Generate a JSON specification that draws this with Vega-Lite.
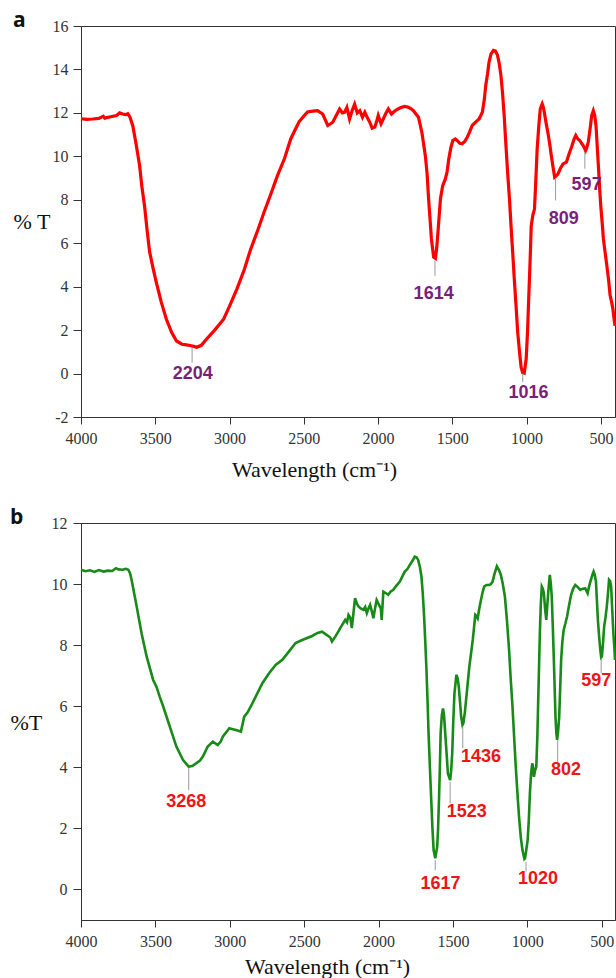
{
  "$schema": "https://vega.github.io/schema/vega-lite/v6.json",
  "background": "white",
  "padding": {"left": 9, "top": 9, "right": 0, "bottom": 0},
  "spacing": 25,
  "config": {
    "view": {"stroke": "#333", "strokeWidth": 1},
    "axis": {
      "grid": false,
      "labelFont": "Liberation Serif",
      "labelFontSize": 16,
      "labelColor": "#333",
      "labelFlush": false,
      "tickColor": "#333",
      "domainColor": "#333",
      "tickSize": 7,
      "titleFont": "Liberation Serif",
      "titleFontSize": 22,
      "titleFontWeight": "normal",
      "titleColor": "#111",
      "labelExpr": "toString(datum.value)"
    },
    "title": {"font": "Open Sans", "fontSize": 21, "fontWeight": "bold", "color": "#111", "anchor": "start"}
  },
  "datasets": {
    "specA": [
      {"w":4000,"t":11.73},{"w":3960,"t":11.70},{"w":3920,"t":11.72},{"w":3880,"t":11.75},{"w":3850,"t":11.85},{"w":3840,"t":11.76},{"w":3800,"t":11.82},{"w":3760,"t":11.88},{"w":3740,"t":12.0},{"w":3720,"t":11.95},{"w":3700,"t":11.92},{"w":3685,"t":11.96},{"w":3670,"t":11.8},{"w":3651,"t":11.4},{"w":3630,"t":10.6},{"w":3606,"t":9.6},{"w":3590,"t":8.6},{"w":3572,"t":7.7},{"w":3555,"t":6.6},{"w":3538,"t":5.6},{"w":3515,"t":4.85},{"w":3493,"t":4.2},{"w":3460,"t":3.3},{"w":3425,"t":2.5},{"w":3390,"t":1.9},{"w":3357,"t":1.5},{"w":3320,"t":1.35},{"w":3290,"t":1.32},{"w":3267,"t":1.29},{"w":3240,"t":1.25},{"w":3221,"t":1.21},{"w":3190,"t":1.3},{"w":3153,"t":1.6},{"w":3100,"t":2.0},{"w":3040,"t":2.5},{"w":3000,"t":3.1},{"w":2950,"t":3.9},{"w":2900,"t":4.8},{"w":2859,"t":5.7},{"w":2810,"t":6.6},{"w":2769,"t":7.4},{"w":2720,"t":8.3},{"w":2678,"t":9.1},{"w":2630,"t":9.9},{"w":2588,"t":10.8},{"w":2560,"t":11.2},{"w":2531,"t":11.6},{"w":2500,"t":11.85},{"w":2475,"t":12.04},{"w":2440,"t":12.08},{"w":2407,"t":12.1},{"w":2373,"t":11.95},{"w":2350,"t":11.6},{"w":2339,"t":11.42},{"w":2320,"t":11.5},{"w":2305,"t":11.57},{"w":2280,"t":11.9},{"w":2259,"t":12.18},{"w":2240,"t":12.0},{"w":2225,"t":12.03},{"w":2210,"t":12.25},{"w":2192,"t":11.72},{"w":2175,"t":12.1},{"w":2158,"t":12.4},{"w":2140,"t":12.0},{"w":2123,"t":12.1},{"w":2105,"t":11.8},{"w":2089,"t":12.03},{"w":2070,"t":11.75},{"w":2056,"t":11.57},{"w":2040,"t":11.3},{"w":2022,"t":11.35},{"w":2010,"t":11.6},{"w":1999,"t":11.88},{"w":1980,"t":11.5},{"w":1965,"t":11.72},{"w":1950,"t":11.95},{"w":1931,"t":12.18},{"w":1910,"t":11.95},{"w":1886,"t":12.1},{"w":1860,"t":12.2},{"w":1841,"t":12.26},{"w":1820,"t":12.3},{"w":1796,"t":12.26},{"w":1780,"t":12.2},{"w":1762,"t":12.1},{"w":1745,"t":11.95},{"w":1728,"t":11.8},{"w":1705,"t":11.1},{"w":1682,"t":10.04},{"w":1670,"t":9.2},{"w":1660,"t":8.05},{"w":1650,"t":7.1},{"w":1641,"t":6.2},{"w":1626,"t":5.36},{"w":1614,"t":5.3},{"w":1605,"t":5.8},{"w":1597,"t":6.5},{"w":1580,"t":8.05},{"w":1565,"t":8.65},{"w":1547,"t":8.96},{"w":1535,"t":9.3},{"w":1524,"t":9.88},{"w":1510,"t":10.4},{"w":1497,"t":10.73},{"w":1480,"t":10.8},{"w":1468,"t":10.73},{"w":1450,"t":10.6},{"w":1434,"t":10.58},{"w":1415,"t":10.7},{"w":1400,"t":10.88},{"w":1385,"t":11.1},{"w":1366,"t":11.42},{"w":1340,"t":11.6},{"w":1320,"t":11.72},{"w":1298,"t":12.03},{"w":1285,"t":12.6},{"w":1275,"t":13.27},{"w":1263,"t":13.8},{"w":1253,"t":14.34},{"w":1240,"t":14.7},{"w":1223,"t":14.88},{"w":1210,"t":14.85},{"w":1196,"t":14.65},{"w":1185,"t":14.3},{"w":1173,"t":13.73},{"w":1162,"t":12.9},{"w":1151,"t":11.88},{"w":1140,"t":10.6},{"w":1128,"t":9.27},{"w":1115,"t":8.0},{"w":1105,"t":6.8},{"w":1094,"t":5.6},{"w":1083,"t":4.35},{"w":1070,"t":3.0},{"w":1060,"t":1.9},{"w":1048,"t":1.0},{"w":1037,"t":0.29},{"w":1027,"t":0.05},{"w":1016,"t":0.02},{"w":1003,"t":0.67},{"w":994,"t":1.9},{"w":986,"t":3.43},{"w":976,"t":5.3},{"w":969,"t":6.8},{"w":958,"t":7.3},{"w":947,"t":7.57},{"w":938,"t":8.9},{"w":929,"t":10.34},{"w":918,"t":11.4},{"w":908,"t":12.18},{"w":895,"t":12.41},{"w":887,"t":12.25},{"w":879,"t":11.95},{"w":868,"t":11.5},{"w":857,"t":11.1},{"w":845,"t":10.6},{"w":834,"t":10.04},{"w":822,"t":9.5},{"w":811,"t":9.04},{"w":800,"t":9.1},{"w":789,"t":9.19},{"w":772,"t":9.45},{"w":755,"t":9.65},{"w":732,"t":9.73},{"w":715,"t":10.1},{"w":698,"t":10.42},{"w":680,"t":10.8},{"w":669,"t":10.96},{"w":655,"t":10.8},{"w":642,"t":10.73},{"w":630,"t":10.6},{"w":619,"t":10.5},{"w":603,"t":10.27},{"w":595,"t":10.4},{"w":585,"t":10.65},{"w":572,"t":11.3},{"w":562,"t":11.88},{"w":551,"t":12.1},{"w":542,"t":11.9},{"w":533,"t":11.42},{"w":525,"t":10.5},{"w":517,"t":9.57},{"w":509,"t":8.6},{"w":501,"t":7.73},{"w":492,"t":7.0},{"w":483,"t":6.2},{"w":470,"t":5.5},{"w":460,"t":4.97},{"w":448,"t":4.3},{"w":438,"t":3.6},{"w":428,"t":3.3},{"w":419,"t":2.97},{"w":411,"t":2.5},{"w":405,"t":2.2}
    ],
    "specB": [
      {"w":4000,"t":10.47},{"w":3970,"t":10.42},{"w":3940,"t":10.45},{"w":3910,"t":10.4},{"w":3880,"t":10.46},{"w":3848,"t":10.41},{"w":3820,"t":10.44},{"w":3790,"t":10.43},{"w":3765,"t":10.52},{"w":3748,"t":10.48},{"w":3720,"t":10.47},{"w":3700,"t":10.5},{"w":3682,"t":10.47},{"w":3670,"t":10.35},{"w":3660,"t":10.14},{"w":3626,"t":9.27},{"w":3593,"t":8.39},{"w":3559,"t":7.63},{"w":3515,"t":6.86},{"w":3493,"t":6.64},{"w":3470,"t":6.3},{"w":3448,"t":6.0},{"w":3403,"t":5.33},{"w":3359,"t":4.68},{"w":3314,"t":4.24},{"w":3276,"t":4.02},{"w":3250,"t":4.05},{"w":3226,"t":4.13},{"w":3200,"t":4.22},{"w":3181,"t":4.35},{"w":3148,"t":4.68},{"w":3114,"t":4.84},{"w":3081,"t":4.73},{"w":3060,"t":4.85},{"w":3047,"t":5.0},{"w":3003,"t":5.28},{"w":2980,"t":5.25},{"w":2959,"t":5.22},{"w":2925,"t":5.17},{"w":2903,"t":5.66},{"w":2880,"t":5.8},{"w":2858,"t":6.0},{"w":2825,"t":6.32},{"w":2780,"t":6.76},{"w":2736,"t":7.08},{"w":2692,"t":7.35},{"w":2647,"t":7.52},{"w":2603,"t":7.79},{"w":2558,"t":8.07},{"w":2513,"t":8.17},{"w":2447,"t":8.3},{"w":2410,"t":8.4},{"w":2380,"t":8.44},{"w":2347,"t":8.33},{"w":2325,"t":8.25},{"w":2313,"t":8.12},{"w":2291,"t":8.28},{"w":2270,"t":8.45},{"w":2258,"t":8.56},{"w":2240,"t":8.7},{"w":2224,"t":8.83},{"w":2212,"t":8.75},{"w":2202,"t":8.99},{"w":2190,"t":8.9},{"w":2180,"t":8.56},{"w":2170,"t":9.0},{"w":2158,"t":9.54},{"w":2145,"t":9.35},{"w":2135,"t":9.27},{"w":2120,"t":9.2},{"w":2102,"t":9.16},{"w":2090,"t":9.25},{"w":2079,"t":9.05},{"w":2068,"t":9.2},{"w":2057,"t":9.32},{"w":2045,"t":9.1},{"w":2035,"t":8.88},{"w":2024,"t":9.2},{"w":2013,"t":9.48},{"w":1995,"t":9.3},{"w":1985,"t":9.2},{"w":1979,"t":8.83},{"w":1968,"t":9.75},{"w":1950,"t":9.7},{"w":1935,"t":9.65},{"w":1920,"t":9.75},{"w":1901,"t":9.81},{"w":1880,"t":9.95},{"w":1857,"t":10.08},{"w":1840,"t":10.25},{"w":1824,"t":10.41},{"w":1805,"t":10.5},{"w":1790,"t":10.63},{"w":1770,"t":10.78},{"w":1757,"t":10.9},{"w":1745,"t":10.88},{"w":1734,"t":10.79},{"w":1722,"t":10.55},{"w":1712,"t":10.25},{"w":1703,"t":9.7},{"w":1694,"t":8.94},{"w":1686,"t":8.1},{"w":1679,"t":7.3},{"w":1671,"t":6.2},{"w":1664,"t":5.11},{"w":1655,"t":4.0},{"w":1646,"t":2.93},{"w":1638,"t":2.0},{"w":1630,"t":1.29},{"w":1619,"t":1.02},{"w":1606,"t":1.4},{"w":1600,"t":2.0},{"w":1594,"t":2.93},{"w":1588,"t":4.0},{"w":1583,"t":5.11},{"w":1575,"t":5.7},{"w":1567,"t":5.93},{"w":1560,"t":5.7},{"w":1552,"t":5.11},{"w":1542,"t":4.4},{"w":1534,"t":3.8},{"w":1519,"t":3.58},{"w":1512,"t":3.9},{"w":1505,"t":4.46},{"w":1498,"t":5.5},{"w":1490,"t":6.42},{"w":1477,"t":7.03},{"w":1468,"t":6.9},{"w":1461,"t":6.64},{"w":1452,"t":6.1},{"w":1445,"t":5.66},{"w":1436,"t":5.39},{"w":1430,"t":5.45},{"w":1420,"t":5.8},{"w":1412,"t":6.2},{"w":1400,"t":6.8},{"w":1390,"t":7.3},{"w":1378,"t":7.75},{"w":1367,"t":8.17},{"w":1358,"t":8.6},{"w":1350,"t":8.99},{"w":1342,"t":8.95},{"w":1334,"t":8.88},{"w":1323,"t":9.2},{"w":1312,"t":9.48},{"w":1300,"t":9.75},{"w":1290,"t":9.92},{"w":1275,"t":9.97},{"w":1256,"t":9.97},{"w":1245,"t":10.0},{"w":1234,"t":10.08},{"w":1220,"t":10.35},{"w":1205,"t":10.58},{"w":1190,"t":10.45},{"w":1178,"t":10.3},{"w":1165,"t":10.0},{"w":1151,"t":9.59},{"w":1137,"t":8.8},{"w":1123,"t":7.85},{"w":1112,"t":6.9},{"w":1100,"t":6.0},{"w":1089,"t":5.0},{"w":1078,"t":4.02},{"w":1066,"t":3.1},{"w":1056,"t":2.38},{"w":1044,"t":1.7},{"w":1033,"t":1.29},{"w":1020,"t":1.0},{"w":1016,"t":1.02},{"w":1007,"t":1.3},{"w":998,"t":1.62},{"w":990,"t":2.3},{"w":983,"t":3.15},{"w":975,"t":3.8},{"w":967,"t":4.13},{"w":962,"t":4.0},{"w":956,"t":3.69},{"w":948,"t":3.9},{"w":940,"t":4.02},{"w":933,"t":5.0},{"w":927,"t":6.2},{"w":921,"t":7.4},{"w":916,"t":8.39},{"w":910,"t":9.3},{"w":903,"t":9.92},{"w":896,"t":9.85},{"w":889,"t":9.7},{"w":881,"t":9.2},{"w":873,"t":8.83},{"w":866,"t":9.3},{"w":860,"t":9.7},{"w":855,"t":10.0},{"w":849,"t":10.3},{"w":842,"t":10.0},{"w":836,"t":9.59},{"w":829,"t":8.6},{"w":822,"t":7.52},{"w":816,"t":6.5},{"w":811,"t":5.66},{"w":805,"t":5.1},{"w":800,"t":4.9},{"w":793,"t":5.2},{"w":786,"t":5.66},{"w":780,"t":6.5},{"w":773,"t":7.52},{"w":765,"t":8.1},{"w":756,"t":8.5},{"w":745,"t":8.7},{"w":733,"t":8.94},{"w":720,"t":9.3},{"w":706,"t":9.65},{"w":692,"t":9.85},{"w":678,"t":9.97},{"w":661,"t":9.9},{"w":644,"t":9.81},{"w":628,"t":9.85},{"w":611,"t":9.86},{"w":595,"t":9.7},{"w":584,"t":9.95},{"w":573,"t":10.14},{"w":563,"t":10.3},{"w":555,"t":10.41},{"w":547,"t":10.3},{"w":539,"t":10.08},{"w":532,"t":9.4},{"w":526,"t":8.83},{"w":518,"t":8.3},{"w":510,"t":7.85},{"w":504,"t":7.6},{"w":499,"t":7.63},{"w":491,"t":8.1},{"w":484,"t":8.61},{"w":475,"t":8.9},{"w":466,"t":9.27},{"w":458,"t":9.7},{"w":451,"t":10.14},{"w":444,"t":10.1},{"w":437,"t":9.92},{"w":430,"t":9.2},{"w":422,"t":8.39},{"w":415,"t":7.9},{"w":411,"t":7.52}
    ],
    "labA": [
      {"label":"2204","lw":3252,"l1":1.2,"l2":0.5,"tx":3248,"ty":0.0},
      {"label":"1614","lw":1617,"l1":5.2,"l2":4.5,"tx":1626,"ty":3.67},
      {"label":"1016","lw":1026,"l1":0.0,"l2":-0.39,"tx":988,"ty":-0.9},
      {"label":"809","lw":805,"l1":8.97,"l2":7.97,"tx":750,"ty":7.12},
      {"label":"597","lw":608,"l1":10.2,"l2":9.43,"tx":596,"ty":8.66}
    ],
    "labB": [
      {"label":"3268","lw":3276,"l1":3.99,"l2":3.25,"tx":3292,"ty":2.87},
      {"label":"1617","lw":1619,"l1":0.96,"l2":0.63,"tx":1584,"ty":0.19},
      {"label":"1523","lw":1519,"l1":3.53,"l2":2.82,"tx":1407,"ty":2.54},
      {"label":"1436","lw":1434,"l1":5.33,"l2":4.62,"tx":1312,"ty":4.35},
      {"label":"1020","lw":1009,"l1":0.9,"l2":0.58,"tx":929,"ty":0.33},
      {"label":"802","lw":796,"l1":4.9,"l2":4.13,"tx":740,"ty":3.91},
      {"label":"597","lw":504,"l1":7.57,"l2":7.08,"tx":537,"ty":6.81}
    ]
  },
  "vconcat": [
    {
      "width": 534,
      "height": 391,
      "title": {"text": "a", "baseline": "alphabetic", "offset": -30},
      "layer": [
        {
          "data": {"name": "specA"},
          "mark": {"type": "line", "color": "#ff0000", "strokeWidth": 3.2},
          "encoding": {
            "x": {"field": "w", "type": "quantitative", "scale": {"domain": [405, 4000], "reverse": true, "nice": false, "zero": false},
              "axis": {"values": [4000, 3500, 3000, 2500, 2000, 1500, 1000, 500], "labelFont": "Liberation Serif", "title": "Wavelength (cm⁻¹)", "labelPadding": 6, "titleX": 233, "titleY": 59, "titleBaseline": "alphabetic", "titleAlign": "center"}},
            "y": {"field": "t", "type": "quantitative", "scale": {"domain": [-2, 16], "nice": false, "zero": false},
              "axis": {"values": [-2, 0, 2, 4, 6, 8, 10, 12, 14, 16], "labelFont": "Liberation Serif", "tickSize": 8, "labelPadding": 5, "title": "% T", "titleAngle": 0, "titleAlign": "left", "titleBaseline": "middle", "titleX": -68, "titleY": 195}}
          }
        },
        {
          "data": {"name": "labA"},
          "mark": {"type": "rule", "color": "#999999", "strokeWidth": 1},
          "encoding": {
            "x": {"field": "lw", "type": "quantitative"},
            "y": {"field": "l1", "type": "quantitative"},
            "y2": {"field": "l2"}
          }
        },
        {
          "data": {"name": "labA"},
          "mark": {"type": "text", "font": "Liberation Sans", "fontWeight": "bold", "fontSize": 18, "color": "#7b1f7b", "align": "center", "baseline": "middle"},
          "encoding": {
            "x": {"field": "tx", "type": "quantitative"},
            "y": {"field": "ty", "type": "quantitative"},
            "text": {"field": "label"}
          }
        }
      ]
    },
    {
      "width": 534,
      "height": 397,
      "title": {"text": "b", "baseline": "alphabetic", "offset": -30},
      "layer": [
        {
          "data": {"name": "specB"},
          "mark": {"type": "line", "color": "#178a17", "strokeWidth": 2.6},
          "encoding": {
            "x": {"field": "w", "type": "quantitative", "scale": {"domain": [411, 4000], "reverse": true, "nice": false, "zero": false},
              "axis": {"values": [4000, 3500, 3000, 2500, 2000, 1500, 1000, 500], "labelFont": "Liberation Serif", "title": "Wavelength (cm⁻¹)", "labelPadding": 6, "titleX": 246, "titleY": 53, "titleBaseline": "alphabetic", "titleAlign": "center"}},
            "y": {"field": "t", "type": "quantitative", "scale": {"domain": [-1, 12], "nice": false, "zero": false},
              "axis": {"values": [0, 2, 4, 6, 8, 10, 12], "labelFont": "Liberation Serif", "tickSize": 8, "labelPadding": 6, "title": "%T", "titleAngle": 0, "titleAlign": "left", "titleBaseline": "middle", "titleX": -71, "titleY": 199}}
          }
        },
        {
          "data": {"name": "labB"},
          "mark": {"type": "rule", "color": "#999999", "strokeWidth": 1},
          "encoding": {
            "x": {"field": "lw", "type": "quantitative"},
            "y": {"field": "l1", "type": "quantitative"},
            "y2": {"field": "l2"}
          }
        },
        {
          "data": {"name": "labB"},
          "mark": {"type": "text", "font": "Liberation Sans", "fontWeight": "bold", "fontSize": 18, "color": "#f01414", "align": "center", "baseline": "middle"},
          "encoding": {
            "x": {"field": "tx", "type": "quantitative"},
            "y": {"field": "ty", "type": "quantitative"},
            "text": {"field": "label"}
          }
        }
      ]
    }
  ]
}
